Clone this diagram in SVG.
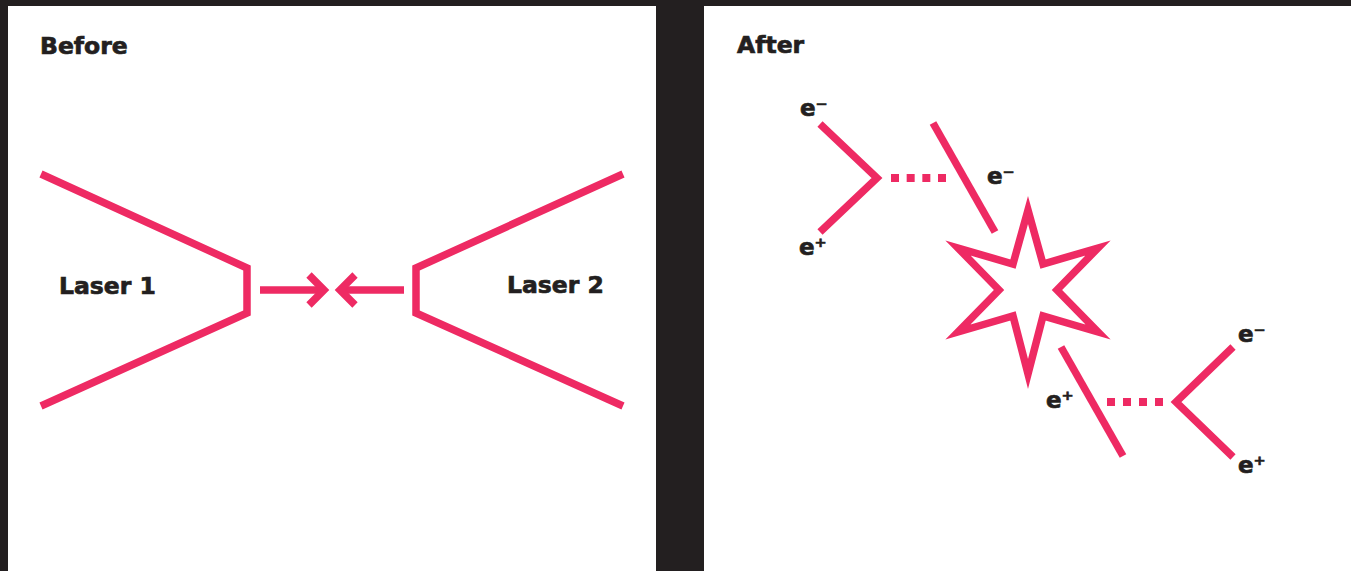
<svg xmlns="http://www.w3.org/2000/svg" width="1351" height="571" viewBox="0 0 1351 571">
<style>
.bg{fill:#231f20}
.panel{fill:#ffffff}
.ln{fill:none;stroke:#ee2a63;stroke-width:7.5;stroke-linejoin:miter;stroke-miterlimit:10;stroke-linecap:butt}
.dash{fill:none;stroke:#ee2a63;stroke-width:8}
.t{font-family:"DejaVu Sans","Liberation Sans",sans-serif;font-weight:bold;fill:#231f20;stroke:#231f20;stroke-width:0.7}
.title{font-size:23.5px}
.lab{font-size:23.5px}
.e{font-size:23px}
</style>
<rect class="bg" x="0" y="0" width="1351" height="571"/>
<g id="panel-before">
<rect class="panel" x="8" y="6" width="648" height="565"/>
<text class="t title" x="40" y="54">Before</text>
</g>
<g id="panel-after">
<rect class="panel" x="704" y="6" width="647" height="565"/>
<text class="t title" x="737" y="53">After</text>
</g>
<g id="laser1">
<polyline class="ln" points="41,174 247,268 247,313 41,406"/>
<text class="t lab" x="59" y="294">Laser 1</text>
</g>
<g id="laser2">
<polyline class="ln" points="623,174 416,268 416,313 623,406"/>
<text class="t lab" x="507" y="293">Laser 2</text>
</g>
<g id="connectors">
<line class="ln" x1="260" y1="290" x2="322" y2="290"/>
<polyline class="ln" points="309,275 324,290 309,305"/>
<line class="ln" x1="404" y1="290" x2="342" y2="290"/>
<polyline class="ln" points="355,275 340,290 355,305"/>
<polyline class="ln" points="820,124 877,178 820,232"/>
<line class="dash" x1="891" y1="178" x2="946" y2="178" stroke-dasharray="8 7.67"/>
<line class="ln" x1="933" y1="123" x2="995" y2="232"/>
<line class="ln" x1="1061" y1="347" x2="1123" y2="456"/>
<line class="dash" x1="1107" y1="402" x2="1163" y2="402" stroke-dasharray="8 8"/>
<polyline class="ln" points="1233,347 1176,402 1233,457"/>
</g>
<g id="collision">
<polygon class="ln" points="1028,210 1043,264 1098,248 1057,290 1098,332 1043,316 1028,374 1013,316 958,332 999,290 958,248 1013,264"/>
</g>
<g id="particles">
<text class="t e" x="800" y="116">e⁻</text>
<text class="t e" x="799" y="255">e⁺</text>
<text class="t e" x="987" y="184">e⁻</text>
<text class="t e" x="1046" y="408">e⁺</text>
<text class="t e" x="1238" y="342">e⁻</text>
<text class="t e" x="1238" y="473">e⁺</text>
</g>
</svg>
